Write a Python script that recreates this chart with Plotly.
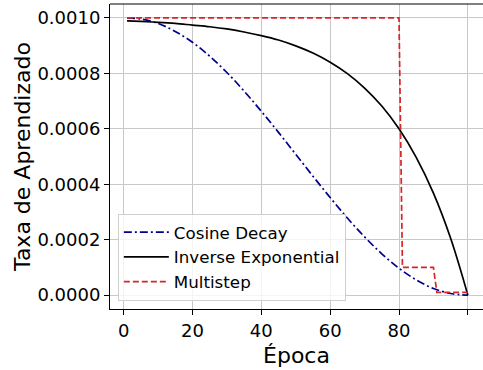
import plotly.graph_objects as go

# Data
epochs_smooth = [1, 5, 10, 15, 20, 25, 30, 35, 40, 45, 50, 55, 60, 65, 70, 75, 80, 85, 90, 95, 100]
cosine_decay = [0.001000, 0.000996, 0.000980, 0.000951, 0.000912, 0.000862, 0.000803, 0.000736,
                0.000663, 0.000587, 0.000508, 0.000429, 0.000352, 0.000278, 0.000210, 0.000149,
                0.000097, 0.000055, 0.000024, 0.000006, 0.000000]
inverse_exp = [0.000989, 0.000987, 0.000984, 0.000980, 0.000974, 0.000968, 0.000960, 0.000949,
               0.000936, 0.000920, 0.000899, 0.000873, 0.000840, 0.000799, 0.000747, 0.000682,
               0.000600, 0.000497, 0.000368, 0.000205, 0.000000]
epochs_step = [1, 80, 81, 90, 91, 100]
multistep = [0.001, 0.001, 0.0001, 0.0001, 0.00001, 0.00001]

x_ticks = [0, 20, 40, 60, 80, 100]
y_ticks = [0.0, 0.0002, 0.0004, 0.0006, 0.0008, 0.0010]

FONT = "DejaVu Sans"

fig = go.Figure()
fig.add_trace(go.Scatter(x=epochs_smooth, y=cosine_decay, mode="lines", name="Cosine Decay",
                         line=dict(color="#00008B", width=1.7, dash="8px,3px,2px,3px", shape="spline")))
fig.add_trace(go.Scatter(x=epochs_smooth, y=inverse_exp, mode="lines", name="Inverse Exponential",
                         line=dict(color="black", width=1.7, shape="spline")))
fig.add_trace(go.Scatter(x=epochs_step, y=multistep, mode="lines", name="Multistep",
                         line=dict(color="#d62728", width=1.7, dash="6px,3px")))

fig.update_layout(
    width=483, height=370,
    margin=dict(l=110, r=0, t=4, b=61),
    plot_bgcolor="white", paper_bgcolor="white",
    font=dict(family=FONT, color="black"),
    showlegend=True,
    legend=dict(x=0.021, y=0.027, xanchor="left", yanchor="bottom", itemwidth=45,
                bgcolor="rgba(255,255,255,0.8)", bordercolor="#d0d0d0", borderwidth=1,
                font=dict(size=16.7, family=FONT, color="black")),
    shapes=[dict(type="line", xref="paper", yref="paper", x0=0, x1=1, y0=1, y1=1,
                 line=dict(color="black", width=1))],
)
fig.update_xaxes(range=[-3.95, 104.4], tickvals=x_ticks, ticktext=[str(v) for v in x_ticks],
                 showgrid=True, gridcolor="#c8c8c8", gridwidth=1, zeroline=False,
                 showline=True, linecolor="black", linewidth=1,
                 ticks="outside", ticklen=5, tickcolor="black",
                 tickfont=dict(size=18, family=FONT, color="black"),
                 title=dict(text="Época", font=dict(size=22, family=FONT, color="black"), standoff=8))
fig.update_yaxes(range=[-0.00005, 0.00105], tickvals=y_ticks, ticktext=[f"{v:.4f}" for v in y_ticks],
                 showgrid=True, gridcolor="#c8c8c8", gridwidth=1, zeroline=False,
                 showline=True, linecolor="black", linewidth=1,
                 ticks="outside", ticklen=5, tickcolor="black",
                 tickfont=dict(size=18, family=FONT, color="black"),
                 title=dict(text="Taxa de Aprendizado", font=dict(size=22, family=FONT, color="black"), standoff=0))

fig.write_html("out.html")
